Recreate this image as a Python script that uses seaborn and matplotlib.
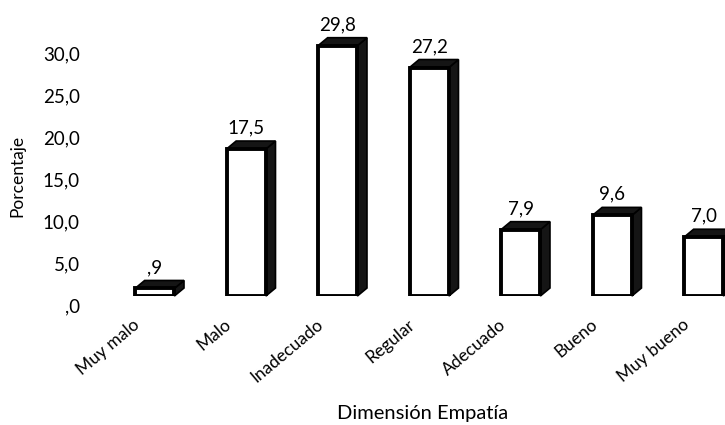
import matplotlib
matplotlib.use("Agg")
import matplotlib.pyplot as plt
import matplotlib.transforms as mtransforms
from matplotlib.patches import Polygon
import seaborn as sns
import pandas as pd

categorias = ["Muy malo", "Malo", "Inadecuado", "Regular", "Adecuado", "Bueno", "Muy bueno"]
porcentajes = [0.9, 17.5, 29.8, 27.2, 7.9, 9.6, 7.0]
marcas_y = [0, 5, 10, 15, 20, 25, 30]


def coma(v):
    s = f"{v:.1f}".replace(".", ",")
    return s[1:] if s.startswith("0") else s


etiquetas_y = [coma(v) for v in marcas_y]
etiquetas_barras = [coma(v) for v in porcentajes]

sns.set_theme(style="white")
plt.rcParams["font.family"] = ["Lato", "DejaVu Sans"]

df = pd.DataFrame({"categoria": categorias, "porcentaje": porcentajes})

fig = plt.figure(figsize=(7.25, 4.25), dpi=100)
ax = fig.add_axes([0.1503, 0.3035, 0.8834, 0.6325])

sns.barplot(data=df, x="categoria", y="porcentaje", order=categorias,
            color="white", edgecolor="black", linewidth=2.8, width=0.43,
            saturation=1, ax=ax, zorder=3)

ax.set_xlim(-0.5, 6.5)
ax.set_ylim(0, 32)

# pseudo-3D depth: dark side face and top face offset up-right
dx, dy = 0.105, 0.95
for p in ax.patches:
    x0, w, h = p.get_x(), p.get_width(), p.get_height()
    side = Polygon([(x0 + w, 0), (x0 + w + dx, dy), (x0 + w + dx, h + dy), (x0 + w, h)],
                   closed=True, facecolor="#151515", edgecolor="black", linewidth=1.2,
                   zorder=2, clip_on=False)
    top = Polygon([(x0, h), (x0 + dx, h + dy), (x0 + w + dx, h + dy), (x0 + w, h)],
                  closed=True, facecolor="#151515", edgecolor="black", linewidth=1.2,
                  zorder=2, clip_on=False)
    ax.add_patch(side)
    ax.add_patch(top)

ax.bar_label(ax.containers[0], labels=etiquetas_barras, padding=9,
             fontsize=13.5, color="black")

ax.set_yticks(marcas_y)
ax.set_yticklabels(etiquetas_y, fontsize=13.5, color="black")
ax.tick_params(axis="y", length=0, pad=21)
ax.tick_params(axis="x", length=0, pad=19)

plt.setp(ax.get_xticklabels(), rotation=40, ha="right", va="center",
         rotation_mode="anchor", fontsize=12.5, color="black")

# shift axis labels like the projected floor of a 3D chart
off_y = mtransforms.ScaledTranslation(0, -0.09, fig.dpi_scale_trans)
for lbl in ax.get_yticklabels():
    lbl.set_transform(lbl.get_transform() + off_y)
off_x = mtransforms.ScaledTranslation(-0.17, 0, fig.dpi_scale_trans)
for lbl in ax.get_xticklabels():
    lbl.set_transform(lbl.get_transform() + off_x)

ax.set_xlabel("Dimensión Empatía", fontsize=14.5, color="black")
ax.xaxis.set_label_coords(0.49, -0.405)
ax.set_ylabel("Porcentaje", fontsize=12.5, color="black")
ax.yaxis.set_label_coords(-0.131, 0.446)

for s in ax.spines.values():
    s.set_visible(False)
ax.grid(False)

fig.savefig("out.png", dpi=100, facecolor="white")
